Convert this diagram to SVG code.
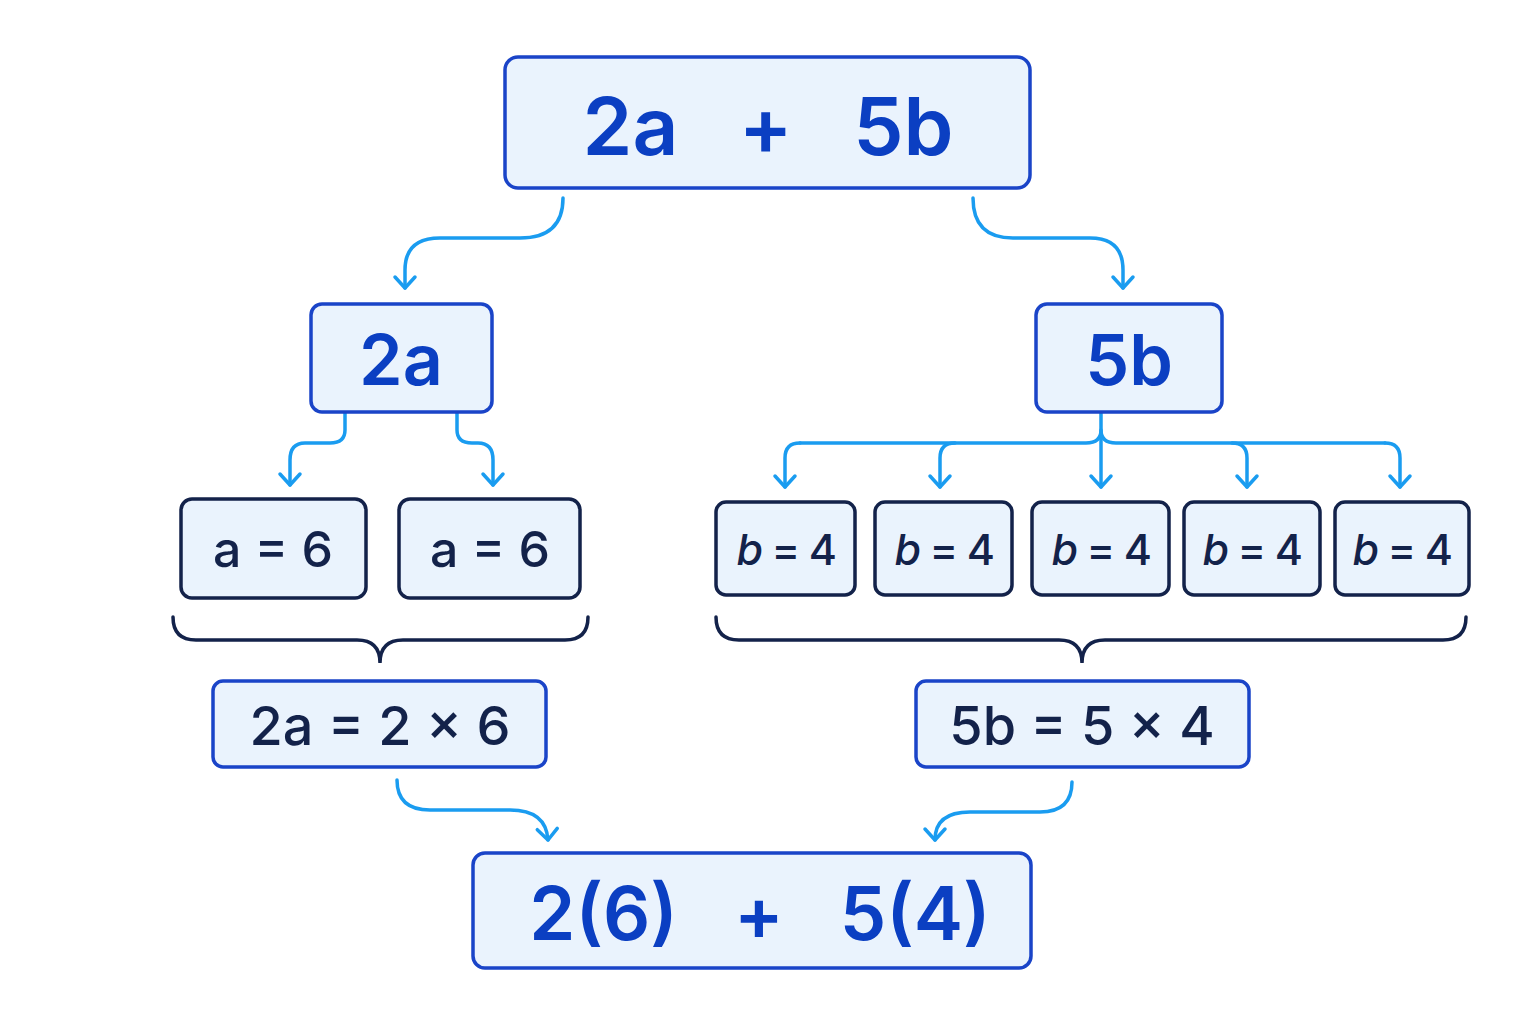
<svg xmlns="http://www.w3.org/2000/svg" width="1536" height="1024" viewBox="0 0 1536 1024">
<defs>
<style>
.bx{fill:#eaf3fd;stroke:#1a44c8;stroke-width:3.5}
.dk{fill:#eaf3fd;stroke:#13224a;stroke-width:3.5}
.c{fill:none;stroke:#1a9cf0;stroke-width:3.5;stroke-linecap:round;stroke-linejoin:round}
.br{fill:none;stroke:#13224a;stroke-width:3.5;stroke-linecap:round}
.tb{font-family:"Inter","DejaVu Sans",sans-serif;font-weight:600;fill:#0b3fc2;text-anchor:middle}
.td{font-family:"Inter","DejaVu Sans",sans-serif;font-weight:500;fill:#13224a;text-anchor:middle}
</style>
<marker id="ar" viewBox="-15 -12 18 24" refX="0" refY="0" markerWidth="18" markerHeight="24" markerUnits="userSpaceOnUse" orient="auto" overflow="visible">
<path d="M-11,-10 L0,0 L-11,10" fill="none" stroke="#1a9cf0" stroke-width="3.5" stroke-linecap="round" stroke-linejoin="round"/>
</marker>
</defs>
<rect width="1536" height="1024" fill="#fff"/>
<g id="connectors">
<path class="c" marker-end="url(#ar)" d="M563,198 Q563,238 520,238 L440,238 Q405,238 405,270 L405,288"/>
<path class="c" marker-end="url(#ar)" d="M973,198 Q973,238 1013,238 L1090,238 Q1123,238 1123,270 L1123,288"/>
<path class="c" marker-end="url(#ar)" d="M345,412 L345,430 Q345,443 330,443 L305,443 Q290,443 290,460 L290,485"/>
<path class="c" marker-end="url(#ar)" d="M457,412 L457,430 Q457,443 472,443 L478,443 Q493,443 493,460 L493,485"/>
<path class="c" d="M1101,412 L1101,430 Q1101,443 1086,443 L800,443 M1101,430 Q1101,443 1116,443 L1385,443"/>
<path class="c" marker-end="url(#ar)" d="M800,443 Q785,443 785,458 L785,487"/>
<path class="c" marker-end="url(#ar)" d="M955,443 Q940,443 940,458 L940,487"/>
<path class="c" marker-end="url(#ar)" d="M1101,430 L1101,487"/>
<path class="c" marker-end="url(#ar)" d="M1232,443 Q1247,443 1247,458 L1247,487"/>
<path class="c" marker-end="url(#ar)" d="M1385,443 Q1400,443 1400,458 L1400,487"/>
<path class="c" marker-end="url(#ar)" d="M397,780 Q397,810 430,810 L510,810 Q546,810 548,840"/>
<path class="c" marker-end="url(#ar)" d="M1072,782 Q1072,812 1040,812 L970,812 Q935,812 935,840"/>
<path class="br" d="M173,617 Q173,640 196,640 L357,640 Q380,640 380,663 Q380,640 403,640 L565,640 Q588,640 588,617"/>
<path class="br" d="M716,617 Q716,640 739,640 L1059,640 Q1082,640 1082,663 Q1082,640 1105,640 L1443,640 Q1466,640 1466,617"/>
</g>
<g id="top"><rect class="bx" x="505" y="57" width="525" height="131" rx="13"/><text class="tb" x="768" y="155" font-size="80" xml:space="preserve">2a   +   5b</text></g>
<g id="n2a"><rect class="bx" x="311" y="304" width="181" height="108" rx="11"/><text class="tb" x="401" y="385" font-size="70">2a</text></g>
<g id="n5b"><rect class="bx" x="1036" y="304" width="186" height="108" rx="11"/><text class="tb" x="1129" y="385" font-size="70">5b</text></g>
<g id="a1"><rect class="dk" x="181" y="499" width="185" height="99" rx="11"/><text class="td" x="273" y="567" font-size="50">a = 6</text></g>
<g id="a2"><rect class="dk" x="399" y="499" width="181" height="99" rx="11"/><text class="td" x="490" y="567" font-size="50">a = 6</text></g>
<g id="b1"><rect class="dk" x="716" y="502" width="139" height="93" rx="10"/><text class="td" x="786" y="565" font-size="43" letter-spacing="-1.5"><tspan font-style="italic">b</tspan> = 4</text></g>
<g id="b2"><rect class="dk" x="875" y="502" width="137" height="93" rx="10"/><text class="td" x="944" y="565" font-size="43" letter-spacing="-1.5"><tspan font-style="italic">b</tspan> = 4</text></g>
<g id="b3"><rect class="dk" x="1032" y="502" width="137" height="93" rx="10"/><text class="td" x="1101" y="565" font-size="43" letter-spacing="-1.5"><tspan font-style="italic">b</tspan> = 4</text></g>
<g id="b4"><rect class="dk" x="1184" y="502" width="136" height="93" rx="10"/><text class="td" x="1252" y="565" font-size="43" letter-spacing="-1.5"><tspan font-style="italic">b</tspan> = 4</text></g>
<g id="b5"><rect class="dk" x="1335" y="502" width="134" height="93" rx="10"/><text class="td" x="1402" y="565" font-size="43" letter-spacing="-1.5"><tspan font-style="italic">b</tspan> = 4</text></g>
<g id="eqa"><rect class="bx" x="213" y="681" width="333" height="86" rx="10"/><text class="td" x="380" y="745" font-size="54">2a = 2 × 6</text></g>
<g id="eqb"><rect class="bx" x="916" y="681" width="333" height="86" rx="10"/><text class="td" x="1082" y="745" font-size="54">5b = 5 × 4</text></g>
<g id="bottom"><rect class="bx" x="473" y="853" width="558" height="115" rx="12"/><text class="tb" x="760" y="940" font-size="74" xml:space="preserve">2(6)   +   5(4)</text></g>
</svg>
